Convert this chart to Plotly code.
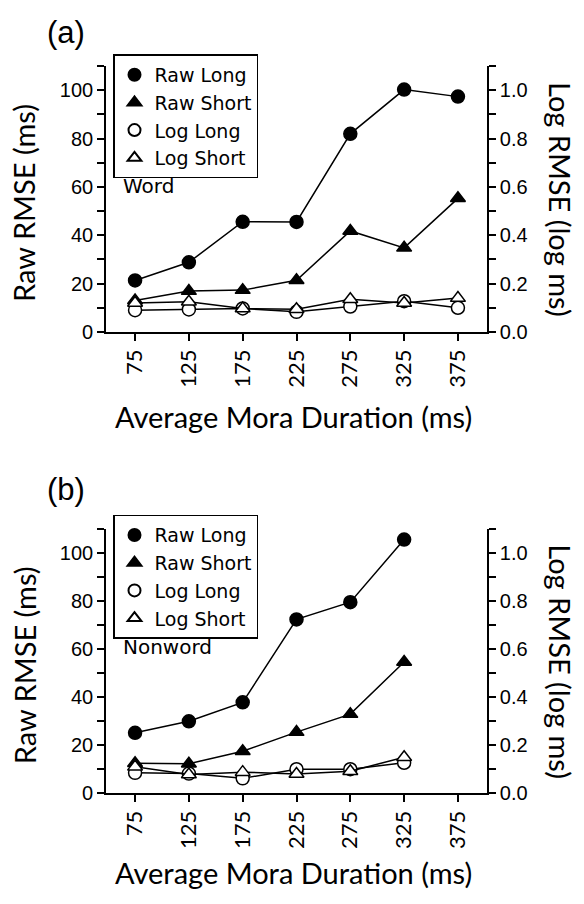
import plotly.graph_objects as go

W, H = 584, 904

durations = [75, 125, 175, 225, 275, 325, 375]
tick_labels = ["75", "125", "175", "225", "275", "325", "375"]

# Panel (a): Word
word_raw_long = [21.3, 28.8, 45.6, 45.5, 82.0, 100.3, 97.4]
word_raw_short = [13.0, 16.9, 17.3, 21.4, 41.8, 34.8, 55.3]
word_log_long = [0.090, 0.093, 0.097, 0.083, 0.105, 0.127, 0.100]
word_log_short = [0.120, 0.125, 0.097, 0.094, 0.135, 0.120, 0.140]

# Panel (b): Nonword
nonword_dur = [75, 125, 175, 225, 275, 325]
nonword_raw_long = [25.2, 30.0, 37.9, 72.5, 79.7, 105.8]
nonword_raw_short = [12.5, 12.3, 17.5, 25.5, 33.0, 54.7]
nonword_log_long = [0.085, 0.082, 0.062, 0.100, 0.100, 0.127]
nonword_log_short = [0.110, 0.078, 0.088, 0.080, 0.092, 0.150]

series_names = ["Raw Long", "Raw Short", "Log Long", "Log Short"]

def px(x):
    return x / W

def py(y):
    return 1 - y / H

X_L, X_R = 106, 487
PANELS = [
    dict(top=67, bot=336),
    dict(top=536, bot=803),
]

LEG_FONT = dict(family="DejaVu Sans", size=19, color="black")
ANN_FONT = dict(family="DejaVu Sans", size=20, color="black")
TITLE_FONT = dict(family="Lato", size=29, color="black")
TICK_FONT = dict(family="Liberation Sans", size=20, color="black")
XTICK_FONT = dict(family="Lato", size=22, color="black")

fig = go.Figure()

styles = {
    "Raw Long": dict(symbol="circle", color="black"),
    "Raw Short": dict(symbol="triangle-up", color="black"),
    "Log Long": dict(symbol="circle", color="white"),
    "Log Short": dict(symbol="triangle-up", color="white"),
}

def add_panel(idx, xs, raw_long, raw_short, log_long, log_short):
    xa = "x" if idx == 0 else "x2"
    ya_raw = "y" if idx == 0 else "y3"
    ya_log = "y2" if idx == 0 else "y4"
    leg = "legend" if idx == 0 else "legend2"
    data = [("Raw Long", raw_long, ya_raw), ("Raw Short", raw_short, ya_raw),
            ("Log Long", log_long, ya_log), ("Log Short", log_short, ya_log)]
    for name, vals, ya in data:
        st = styles[name]
        fig.add_trace(go.Scatter(
            x=xs, y=vals, mode="lines+markers", xaxis=xa, yaxis=ya,
            line=dict(color="black", width=1.5),
            marker=dict(symbol=st["symbol"], size=13, color=st["color"],
                        line=dict(color="black", width=1.5)),
            showlegend=False, cliponaxis=False))
    for name in series_names:
        st = styles[name]
        fig.add_trace(go.Scatter(
            x=[None], y=[None], mode="markers", name=name, xaxis=xa, yaxis=ya_raw,
            marker=dict(symbol=st["symbol"], size=11, color=st["color"],
                        line=dict(color="black", width=1.5)),
            legend=leg, showlegend=True))

add_panel(0, durations, word_raw_long, word_raw_short, word_log_long, word_log_short)
add_panel(1, nonword_dur, nonword_raw_long, nonword_raw_short, nonword_log_long, nonword_log_short)

axis_common = dict(showline=True, linecolor="black", linewidth=1.6, ticks="outside",
                   ticklen=7, tickwidth=1.6, tickcolor="black", showgrid=False,
                   zeroline=False)

layout = dict(
    width=W, height=H, margin=dict(l=0, r=0, t=0, b=0),
    paper_bgcolor="white", plot_bgcolor="white",
    showlegend=True,
)

for i, p in enumerate(PANELS):
    xk = "xaxis" if i == 0 else "xaxis2"
    yk_raw = "yaxis" if i == 0 else "yaxis3"
    yk_log = "yaxis2" if i == 0 else "yaxis4"
    xa = "x" if i == 0 else "x2"
    ya_raw = "y" if i == 0 else "y3"
    dom_y = [py(p["bot"]), py(p["top"])]
    layout[xk] = dict(axis_common, domain=[px(X_L), px(X_R)], range=[48, 402],
                      tickmode="array", tickvals=durations, ticktext=tick_labels,
                      tickangle=-90, tickfont=XTICK_FONT, anchor=ya_raw)
    layout[yk_raw] = dict(axis_common, domain=dom_y, range=[0, 110], dtick=20, tick0=0,
                          tickfont=TICK_FONT, anchor=xa,
                          minor=dict(dtick=10, tick0=0, ticks="outside", ticklen=7,
                                     tickwidth=1.6, tickcolor="black", showgrid=False))
    layout[yk_log] = dict(axis_common, range=[0, 1.1], dtick=0.2, tick0=0,
                          tickformat=".1f", tickfont=TICK_FONT, side="right",
                          overlaying=ya_raw, anchor=xa,
                          minor=dict(dtick=0.1, tick0=0, ticks="outside", ticklen=7,
                                     tickwidth=1.6, tickcolor="black", showgrid=False))

leg_common = dict(font=LEG_FONT, bgcolor="white", bordercolor="black", borderwidth=1.5,
                  xanchor="left", yanchor="top", tracegroupgap=0, itemsizing="constant")
layout["legend"] = dict(leg_common, x=px(113), y=py(55))
layout["legend2"] = dict(leg_common, x=px(113), y=py(521))

fig.update_layout(**layout)

annots = []
def ann(text, x, y, font, angle=0, xanchor="center", yanchor="middle"):
    annots.append(dict(text=text, x=px(x), y=py(y), xref="paper", yref="paper",
                       showarrow=False, font=font, textangle=angle,
                       xanchor=xanchor, yanchor=yanchor))

PANEL_FONT = dict(family="Liberation Sans", size=31, color="black")
ann("(a)", 66, 33, PANEL_FONT)
ann("(b)", 66, 496, PANEL_FONT)
ann("Word", 121, 188, ANN_FONT, xanchor="left")
ann("Nonword", 121, 655, ANN_FONT, xanchor="left")
for i, p in enumerate(PANELS):
    mid = (p["top"] + p["bot"]) / 2
    ann("Raw RMSE (ms)", 24, mid + 4, TITLE_FONT, angle=-90)
    ann("Log RMSE (log ms)", 561, mid, TITLE_FONT, angle=90)
ann("Average Mora Duration (ms)", 293, 422, TITLE_FONT)
ann("Average Mora Duration (ms)", 293, 883, TITLE_FONT)
fig.update_layout(annotations=annots)

fig.write_html("out.html", post_script="document.body.style.margin='0';",
               config={"displayModeBar": False})
